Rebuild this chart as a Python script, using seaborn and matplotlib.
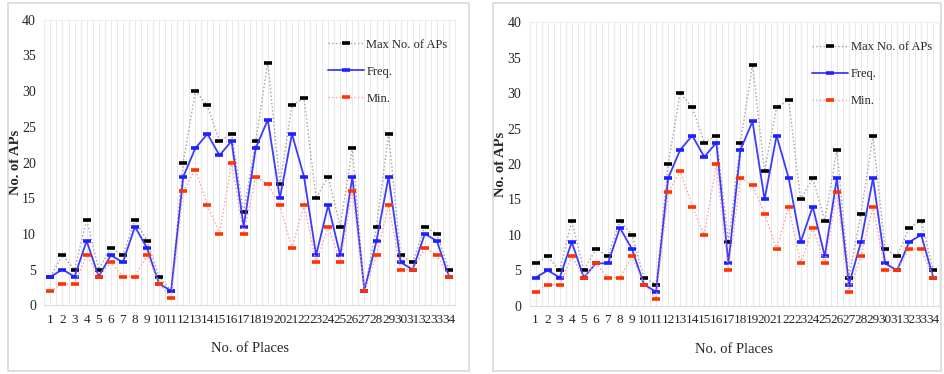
import numpy as np
import pandas as pd
import seaborn as sns
import matplotlib.pyplot as plt
from matplotlib.patches import Rectangle

# data (places 1..34)
places = list(range(1, 35))

max_left = [4, 7, 5, 12, 5, 8, 7, 12, 9, 4, 2, 20, 30, 28, 23, 24, 13,
            23, 34, 17, 28, 29, 15, 18, 11, 22, 2, 11, 24, 7, 6, 11, 10, 5]
freq_left = [4, 5, 4, 9, 4, 7, 6, 11, 8, 3, 2, 18, 22, 24, 21, 23, 11,
             22, 26, 15, 24, 18, 7, 14, 7, 18, 2, 9, 18, 6, 5, 10, 9, 4]
min_left = [2, 3, 3, 7, 4, 6, 4, 4, 7, 3, 1, 16, 19, 14, 10, 20, 10,
            18, 17, 14, 8, 14, 6, 11, 6, 16, 2, 7, 14, 5, 5, 8, 7, 4]

max_right = [6, 7, 5, 12, 5, 8, 7, 12, 10, 4, 3, 20, 30, 28, 23, 24, 9,
             23, 34, 19, 28, 29, 15, 18, 12, 22, 4, 13, 24, 8, 7, 11, 12, 5]
freq_right = [4, 5, 4, 9, 4, 6, 6, 11, 8, 3, 2, 18, 22, 24, 21, 23, 6,
              22, 26, 15, 24, 18, 9, 14, 7, 18, 3, 9, 18, 6, 5, 9, 10, 4]
min_right = [2, 3, 3, 7, 4, 6, 4, 4, 7, 3, 1, 16, 19, 14, 10, 20, 5,
             18, 17, 13, 8, 14, 6, 11, 6, 16, 2, 7, 14, 5, 5, 8, 8, 4]

sns.set_style("white")
plt.rcParams['font.family'] = ['Liberation Serif', 'DejaVu Serif']

fig = plt.figure(figsize=(9.44, 3.74), dpi=100)

# grey frames round each panel
fig.patches.append(Rectangle((8/944, 3/374), 461/944, 368/374, transform=fig.transFigure,
                             fill=False, edgecolor="#d9d9d9", lw=1.2))
fig.patches.append(Rectangle((493/944, 3/374), 448/944, 368/374, transform=fig.transFigure,
                             fill=False, edgecolor="#d9d9d9", lw=1.2))

ax1 = fig.add_axes([0.047, 0.184, 0.435, 0.763])
ax2 = fig.add_axes([0.561, 0.182, 0.434, 0.759])


def draw(ax, mx, fq, mn):
    sns.lineplot(x=places, y=mx, ax=ax, color="#a0a0a0", linestyle=":", lw=1.0,
                 marker="_", markersize=6, mew=2.6, mec="black", label="Max No. of APs")
    sns.lineplot(x=places, y=fq, ax=ax, color="#3b3bff", linestyle="-", lw=1.3,
                 marker="_", markersize=6, mew=2.6, mec="#2020ff", label="Freq.")
    sns.lineplot(x=places, y=mn, ax=ax, color="#ff9a9a", linestyle=":", lw=1.0,
                 marker="_", markersize=6, mew=2.6, mec="#ff3300", label="Min.")
    ax.set_xlim(0.5, 34.5)
    ax.set_ylim(0, 40)
    ax.set_xticks(places)
    ax.set_xticklabels([str(p) for p in places], fontsize=9.5)
    ax.set_xticks(np.arange(0.5, 35, 1), minor=True)
    ax.set_yticks(range(0, 41, 5))
    ax.tick_params(axis="y", labelsize=10, length=0, pad=6)
    ax.tick_params(axis="x", which="both", length=0, pad=6)
    ax.grid(axis="x", which="both", color="#e4e4e4", lw=0.6)
    for s in ax.spines.values():
        s.set_color("#e8eef6")
        s.set_linewidth(0.8)
    ax.spines["bottom"].set_color("#d8dde5")
    ax.set_xlabel("No. of Places", fontsize=10.5, labelpad=12)
    ax.set_ylabel("No. of APs", fontsize=10.5, fontweight="bold", labelpad=0)
    ax.legend(loc="upper right", bbox_to_anchor=(1.0, 0.96), frameon=False, fontsize=9,
              handlelength=2.9, handletextpad=0.2, labelspacing=1.2, borderaxespad=0.2)


draw(ax1, max_left, freq_left, min_left)
draw(ax2, max_right, freq_right, min_right)

plt.savefig("out.png", dpi=100)
